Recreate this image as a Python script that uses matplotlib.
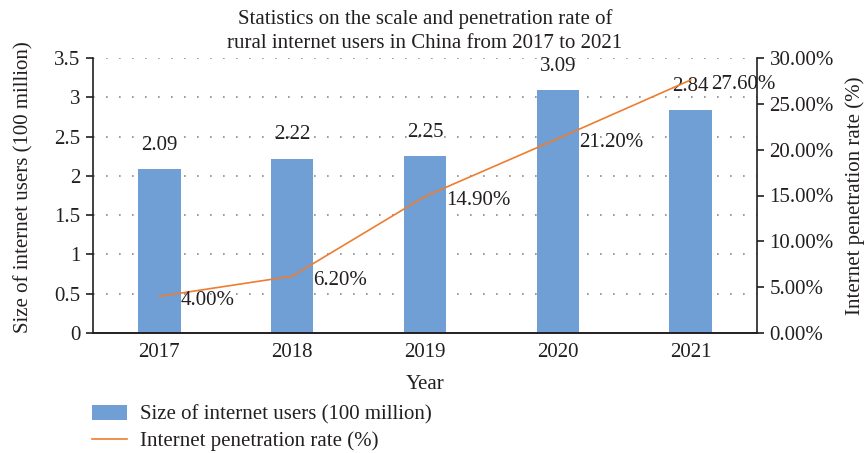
import matplotlib
matplotlib.use("Agg")
import matplotlib.pyplot as plt
import numpy as np
from matplotlib.ticker import FuncFormatter
from matplotlib.patches import Patch
from matplotlib.lines import Line2D

years = ["2017", "2018", "2019", "2020", "2021"]
users = [2.09, 2.22, 2.25, 3.09, 2.84]
rate = [4.00, 6.20, 14.90, 21.20, 27.60]
left_ticks = [0, 0.5, 1, 1.5, 2, 2.5, 3, 3.5]
right_ticks = [0, 5, 10, 15, 20, 25, 30]

plt.rcParams['font.family'] = ['Liberation Serif', 'DejaVu Serif']
txt = '#231f20'
bar_color = '#6f9fd4'
line_color = '#ed7d31'
fs = 15

fig = plt.figure(figsize=(8.68, 4.53), dpi=100)
ax = fig.add_axes([93/868, 1-333/453, (757-93)/868, (333-58)/453])
ax2 = ax.twinx()

x = np.arange(len(years))
ax.bar(x, users, width=0.32, color=bar_color, zorder=2)
ax.set_xlim(-0.5, 4.5)
ax.set_ylim(0, 3.5)
ax.set_yticks(left_ticks)
ax.yaxis.set_major_formatter(FuncFormatter(lambda v, p: f"{v:g}"))
ax.set_xticks(x)
ax.set_xticklabels(years)
for v in left_ticks[1:]:
    ax.axhline(v, color='#8a8a8a', lw=1.2, linestyle=(0, (1, 6.8)), zorder=1)

for xi, v in zip(x, users):
    ax.annotate(f"{v:.2f}", (xi, v), xytext=(0, 17), textcoords='offset points',
                ha='center', va='center', fontsize=fs, color=txt)

ax2.plot(x, rate, color=line_color, lw=1.2, zorder=3)
ax2.set_ylim(0, 30)
ax2.set_yticks(right_ticks)
ax2.yaxis.set_major_formatter(FuncFormatter(lambda v, p: f"{v:.2f}%"))
for xi, v in zip(x, rate):
    ax2.annotate(f"{v:.2f}%", (xi, v), xytext=(15, -3), textcoords='offset points',
                 ha='left', va='center', fontsize=fs, color=txt)

for a in (ax, ax2):
    a.spines['top'].set_visible(False)
    a.tick_params(labelsize=fs, colors=txt, width=1.2, length=5, pad=4)
    for s in a.spines.values():
        s.set_linewidth(1.2)
        s.set_color(txt)
ax.tick_params(axis='x', length=0, pad=7.5)
ax.spines['right'].set_visible(False)
ax2.spines['left'].set_visible(False)

ax.set_xlabel("Year", fontsize=fs, color=txt, labelpad=9)
ax.set_ylabel("Size of internet users (100 million)", fontsize=fs, color=txt)
ax.yaxis.set_label_coords(-0.089, 0.53)
ax2.set_ylabel("Internet penetration rate (%)", fontsize=fs, color=txt, labelpad=8)

fig.text(425/868, 1-31/453, "Statistics on the scale and penetration rate of\nrural internet users in China from 2017 to 2021",
         ha='center', va='center', fontsize=fs, color=txt, linespacing=1.3)

handles = [Patch(facecolor=bar_color, edgecolor='none'),
           Line2D([0], [0], color=line_color, lw=1.2)]
labels = ["Size of internet users (100 million)", "Internet penetration rate (%)"]
fig.legend(handles, labels, loc='upper left', bbox_to_anchor=(84/868, 1-397/453),
           frameon=False, fontsize=fs, handlelength=1.68, handleheight=0.67,
           labelspacing=0.3, handletextpad=0.62, labelcolor=txt, borderaxespad=0)

fig.savefig("out.png", dpi=100)
